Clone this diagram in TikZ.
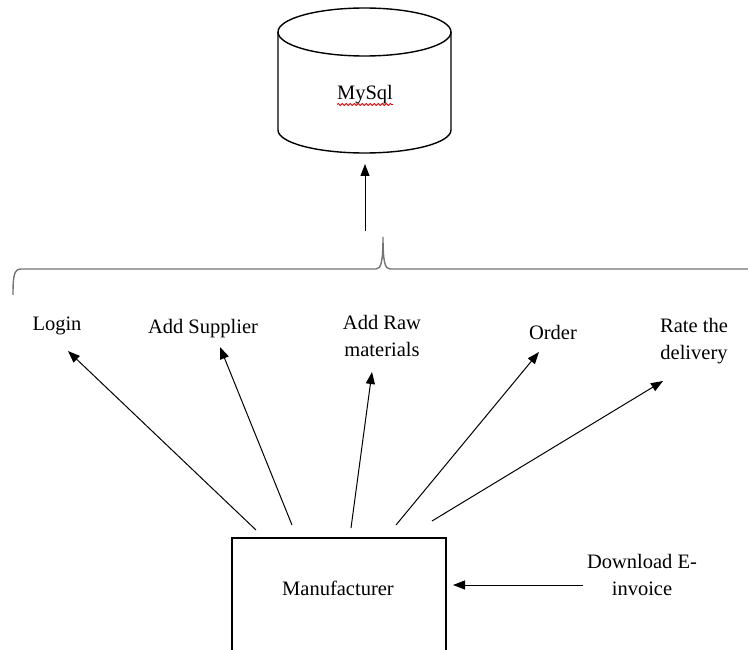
\documentclass[tikz,border=0pt]{standalone}
\usepackage{fontspec}
\setmainfont{Liberation Serif}
\usetikzlibrary{arrows.meta,decorations.pathmorphing}

\tikzset{
  lbl/.style={inner sep=0pt, align=center, font=\fontsize{20.5}{27}\selectfont},
  flow/.style={line width=1pt, -{Triangle[length=12pt,width=9pt]}},
  shape line/.style={line width=1.4pt},
  brace line/.style={line width=1.4pt, draw=black!55},
  squiggle/.style={draw=red!85!black, line width=0.8pt,
    decorate, decoration={snake, amplitude=1pt, segment length=4pt}}
}

\begin{document}
\begin{tikzpicture}[x=1pt,y=-1pt]
  \useasboundingbox (0,0) rectangle (748,650);

  % database cylinder
  \draw[shape line] (364.5,32) ellipse [x radius=86.5, y radius=24];
  \draw[shape line] (278,32) -- (278,130)
    arc[start angle=180, end angle=0, x radius=86.5, y radius=23]
    -- (451,32);
  \node[lbl, anchor=base] (db) at (365,100) {MySql};
  \draw[squiggle] (337,104.5) -- (393,104.5);
  \coordinate (dbin) at (365,164);
  \coordinate (brin) at (365,231);
  \draw[flow] (brin) -- (dbin);

  % brace spanning the operations
  \draw[brace line] (13,295) .. controls (13,276) and (14,269) .. (21,269)
    -- (376,269) .. controls (381,269) and (383,262) .. (383,237)
    .. controls (383,262) and (385,269) .. (390,269) -- (748,269);

  % operations
  \node[lbl] (login) at (57,326) {Login};
  \node[lbl] (supp)  at (203,329) {Add Supplier};
  \node[lbl] (raw)   at (382,336) {Add Raw\\materials};
  \node[lbl] (order) at (553,332) {Order};
  \node[lbl] (rate)  at (694,341) {Rate the\\delivery};
  \node[lbl] (down)  at (642,575) {Download E-\\invoice};

  % manufacturer box (runs off the bottom edge)
  \node[lbl] (mfr) at (338,588) {Manufacturer};
  \draw[shape line] (232,652) -- (232,538) -- (446,538) -- (446,652);

  % arrow ends
  \coordinate (m1) at (256,530);
  \coordinate (m2) at (292,525);
  \coordinate (m3) at (351,528);
  \coordinate (m4) at (396,525);
  \coordinate (m5) at (432,521);
  \coordinate (t1) at (68,351);
  \coordinate (t2) at (220,347);
  \coordinate (t3) at (372,372);
  \coordinate (t4) at (539,352);
  \coordinate (t5) at (663,381);
  \coordinate (d0) at (583,585);
  \coordinate (d1) at (453,585);

  \draw[flow] (m1) -- (t1);
  \draw[flow] (m2) -- (t2);
  \draw[flow] (m3) -- (t3);
  \draw[flow] (m4) -- (t4);
  \draw[flow] (m5) -- (t5);
  \draw[flow] (d0) -- (d1);
\end{tikzpicture}
\end{document}
